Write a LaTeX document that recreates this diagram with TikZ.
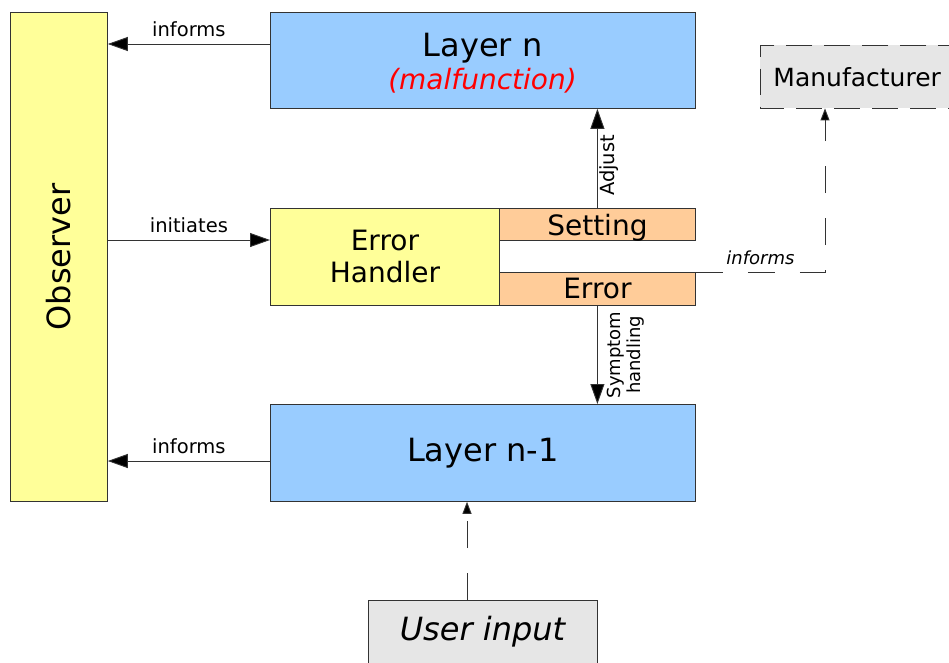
\documentclass[tikz,border=0pt]{standalone}
\usepackage{fontspec}
\usepackage{graphicx}
\setmainfont{DejaVu Sans}
\usetikzlibrary{arrows.meta,calc}
\definecolor{yel}{HTML}{FFFF99}
\definecolor{blu}{HTML}{99CCFF}
\definecolor{ora}{HTML}{FFCC99}
\definecolor{gry}{HTML}{E6E6E6}
\definecolor{edgec}{HTML}{333333}
\definecolor{linec}{HTML}{333333}
\newcommand\fsBig{\fontsize{32}{34}\selectfont}
\newcommand\fsMid{\fontsize{28}{32}\selectfont}
\newcommand\fsMan{\fontsize{25}{28}\selectfont}
\newcommand\fsLab{\fontsize{19.5}{22}\selectfont}
\newcommand\fsSml{\fontsize{18}{20}\selectfont}
\begin{document}
\begin{tikzpicture}[x=1pt,y=-1pt,
  box/.style={draw=edgec, line width=0.8pt, inner sep=0pt, anchor=north west, align=center},
  arr/.style={draw=linec, line width=0.9pt, -{Triangle[length=20pt,width=14pt,fill=black]}},
  darr/.style={draw=linec, line width=0.9pt, dash pattern=on 27pt off 25pt, -{Triangle[length=12pt,width=9pt,fill=black]}},
  lab/.style={font=\fsLab, inner sep=0pt, text=black}
]
\useasboundingbox (0,0) rectangle (949,662);
% boxes
\node[box, fill=yel, minimum width=97pt, minimum height=489pt] (obs) at (10,12) {\rotatebox{90}{\fsBig Observer}};
\node[box, fill=blu, minimum width=425pt, minimum height=96pt] (ln) at (270,12) {};
\node[font=\fsBig, align=center, inner sep=0pt] (lntext) at (482.5,63) {Layer n\\[-1pt]{\fsMid\itshape\color{red}(malfunction)}};
\node[anchor=north west, fill=gry, inner sep=0pt, minimum width=194pt, minimum height=63pt, font=\fsMan] (mf) at (760,45) {Manufacturer};
\draw[draw=edgec, line width=0.8pt, dash pattern=on 26pt off 12pt] ($(mf.north east)+(10,0)$) -- (mf.north west) -- (mf.south west) -- ($(mf.south east)+(10,0)$);
\node[box, fill=yel, minimum width=229pt, minimum height=97pt, font=\fsMid] (eh) at (270,208) {Error\\Handler};
\node[box, fill=ora, minimum width=196pt, minimum height=32pt, font=\fsMid, text depth=0pt] (set) at (499,208) {Setting};
\node[box, fill=ora, minimum width=196pt, minimum height=33pt, font=\fsMid] (err) at (499,272) {Error};
\node[box, fill=blu, minimum width=425pt, minimum height=97pt, font=\fsBig] (ln1) at (270,404) {Layer n-1};
\node[box, fill=gry, minimum width=229pt, minimum height=80pt] (ui) at (368,600) {};
\node[font=\fsBig\itshape, inner sep=0pt] (uitext) at (482.5,632) {User input};
% helper coordinates
\coordinate (y44) at (0,44);
\coordinate (y240) at (0,240);
\coordinate (y461) at (0,461);
\coordinate (x467) at (467,0);
\coordinate (mc) at (825,272);
% connectors
\draw[arr] (ln.west |- y44) -- node[lab, above=7pt] {informs} (obs.east |- y44);
\draw[arr] (obs.east |- y240) -- node[lab, above=7pt] {initiates} (eh.west |- y240);
\draw[arr] (ln1.west |- y461) -- node[lab, above=7pt] {informs} (obs.east |- y461);
\draw[arr] (set.north) -- node[lab, pos=0.43, rotate=90, anchor=north, inner sep=2pt] {Adjust} (ln.south -| set.north);
\draw[arr] (err.south) -- node[font=\fsSml, pos=0.5, rotate=90, anchor=north, inner sep=0pt, yshift=-9pt, align=center] {Symptom\\handling} (ln1.north -| err.south);
\draw[darr] (err.north east) -- node[font=\fsSml\itshape, above=7pt, inner sep=0pt] {informs} (mc) -- (mf.south -| mc);
\draw[darr] (ui.north -| x467) -- (ln1.south -| x467);
\end{tikzpicture}
\end{document}
